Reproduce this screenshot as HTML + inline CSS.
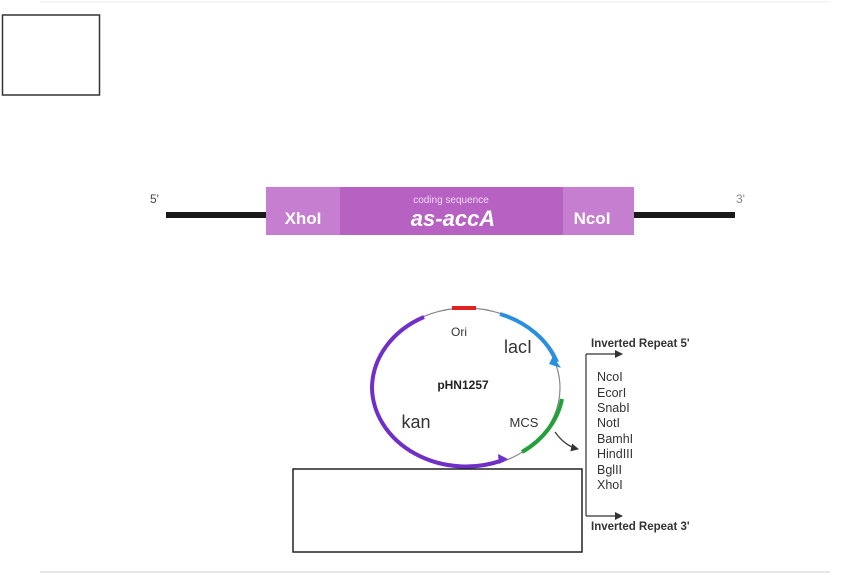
<!DOCTYPE html>
<html><head><style>
html,body{margin:0;padding:0;background:#fff;}
svg{display:block;}
text{font-family:"Liberation Sans",Arial,sans-serif;}
</style></head><body>
<svg width="850" height="575" viewBox="0 0 850 575" xmlns="http://www.w3.org/2000/svg">
<defs>
<marker id="ah" markerWidth="8" markerHeight="8" refX="7" refY="4" orient="auto" markerUnits="userSpaceOnUse"><path d="M0,0 L8,4 L0,8 Z" fill="#333"/></marker>
</defs>
<line x1="40" y1="2" x2="830" y2="2" stroke="#eee" stroke-width="1"/>
<line x1="40" y1="572" x2="830" y2="572" stroke="#ddd" stroke-width="1.5"/>
<rect x="2.5" y="15" width="97" height="80" fill="none" stroke="#333" stroke-width="1.5"/>

<!-- gene -->
<text x="150" y="203" font-size="12" fill="#444">5'</text>
<text x="736" y="203" font-size="12" fill="#888">3'</text>
<rect x="166" y="212" width="100" height="6" fill="#1a1a1a"/>
<rect x="634" y="212" width="101" height="6" fill="#1a1a1a"/>
<rect x="266" y="187" width="368" height="48" fill="#b761c2"/>
<rect x="266" y="187" width="74" height="48" fill="#c67ed0"/>
<rect x="563" y="187" width="71" height="48" fill="#c67ed0"/>
<text x="303" y="224" font-size="17" font-weight="bold" fill="#fff" text-anchor="middle">XhoI</text>
<text x="592" y="224" font-size="17" font-weight="bold" fill="#fff" text-anchor="middle">NcoI</text>
<text x="451" y="203" font-size="10" fill="#f0d8f4" text-anchor="middle">coding sequence</text>
<text x="453" y="226" font-size="22" font-weight="bold" font-style="italic" fill="#fff" text-anchor="middle">as-accA</text>

<!-- plasmid -->
<ellipse cx="466" cy="388" rx="94" ry="80" fill="none" stroke="#888" stroke-width="1.2"/>
<path d="M452,308 L476,308" stroke="#d22" stroke-width="4" fill="none"/>
<path d="M500,314 A94,80 0 0 1 557,362" stroke="#2a8fe0" stroke-width="4" fill="none"/>
<path d="M553,356 L561,368 L549,364 Z" fill="#2a8fe0"/>
<path d="M562,399 A94,80 0 0 1 522,452" stroke="#22a03a" stroke-width="4" fill="none"/>
<path d="M424,317 A94,80 0 0 0 372,388 A94,80 0 0 0 503,460" stroke="#7030c8" stroke-width="4" fill="none"/>
<path d="M498,454 L508,459 L499,464 Z" fill="#7030c8"/>
<text x="459" y="336" font-size="12" fill="#333" text-anchor="middle">Ori</text>
<text x="518" y="353" font-size="18" fill="#333" text-anchor="middle">lacI</text>
<text x="463" y="389" font-size="12" font-weight="bold" fill="#222" text-anchor="middle">pHN1257</text>
<text x="416" y="428" font-size="18" fill="#333" text-anchor="middle">kan</text>
<text x="524" y="427" font-size="13" fill="#333" text-anchor="middle">MCS</text>
<path d="M555,432 Q565,446 578,449" stroke="#333" stroke-width="1.2" fill="none" marker-end="url(#ah)"/>

<!-- bracket -->
<line x1="586" y1="354" x2="586" y2="516" stroke="#333" stroke-width="1.2"/>
<line x1="586" y1="354" x2="622" y2="354" stroke="#333" stroke-width="1.2" marker-end="url(#ah)"/>
<line x1="586" y1="516" x2="622" y2="516" stroke="#333" stroke-width="1.2" marker-end="url(#ah)"/>
<text x="591" y="347" font-size="11.5" font-weight="bold" fill="#333">Inverted Repeat 5'</text>
<text x="591" y="530" font-size="11.5" font-weight="bold" fill="#333">Inverted Repeat 3'</text>
<g font-size="12.5" fill="#333">
<text x="597" y="381">NcoI</text>
<text x="597" y="397">EcorI</text>
<text x="597" y="412">SnabI</text>
<text x="597" y="427">NotI</text>
<text x="597" y="443">BamhI</text>
<text x="597" y="458">HindIII</text>
<text x="597" y="474">BglII</text>
<text x="597" y="489">XhoI</text>
</g>

<rect x="293" y="469" width="289" height="83" fill="#fff" stroke="#222" stroke-width="1.5"/>
</svg>
</body></html>
